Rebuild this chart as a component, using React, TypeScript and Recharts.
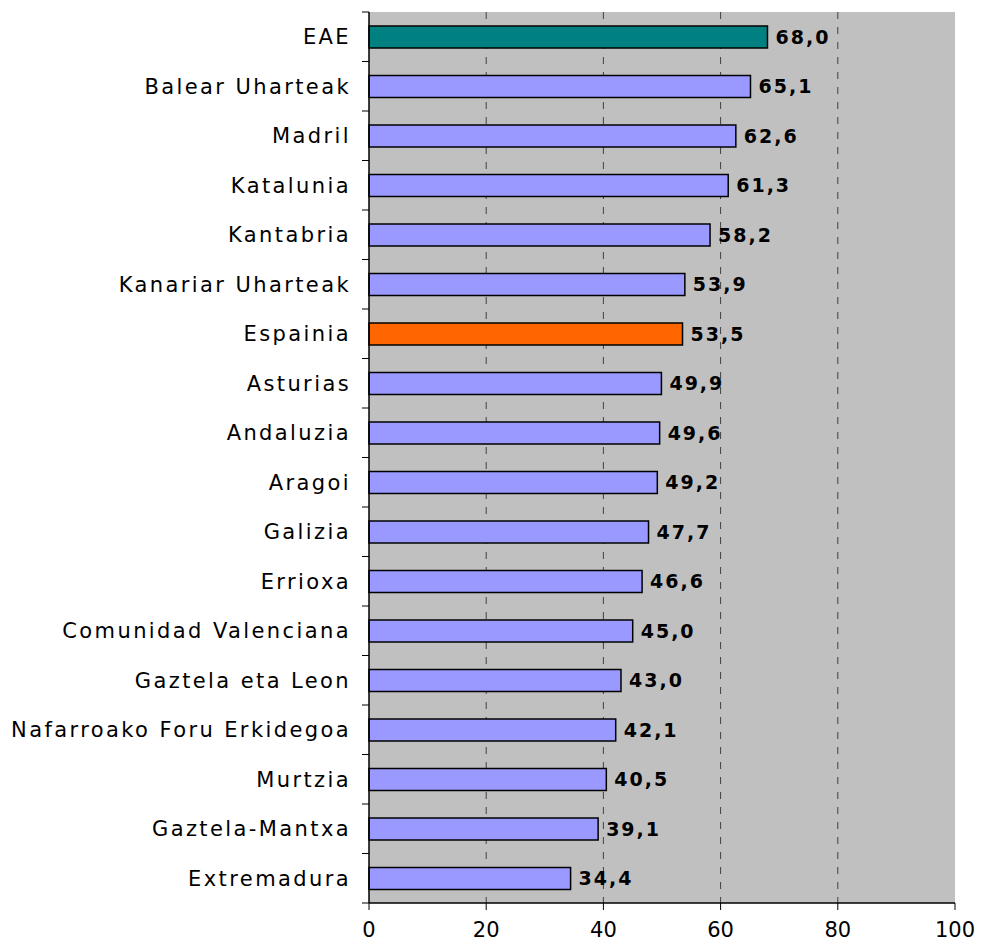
import React from "react";
import {
  BarChart,
  Bar,
  XAxis,
  YAxis,
  CartesianGrid,
  Cell,
  LabelList,
} from "recharts";

const regions = [
  "EAE",
  "Balear Uharteak",
  "Madril",
  "Katalunia",
  "Kantabria",
  "Kanariar Uharteak",
  "Espainia",
  "Asturias",
  "Andaluzia",
  "Aragoi",
  "Galizia",
  "Errioxa",
  "Comunidad Valenciana",
  "Gaztela eta Leon",
  "Nafarroako Foru Erkidegoa",
  "Murtzia",
  "Gaztela-Mantxa",
  "Extremadura",
];

const values = [
  68.0, 65.1, 62.6, 61.3, 58.2, 53.9, 53.5, 49.9, 49.6, 49.2, 47.7, 46.6, 45.0,
  43.0, 42.1, 40.5, 39.1, 34.4,
];

const xTicks = [0, 20, 40, 60, 80, 100];
const gridValues = [20, 40, 60, 80];

const data = regions.map((name, i) => ({ name, value: values[i] }));

const W = 978;
const H = 936;
const M_TOP = 4;
const X_AXIS_H = 41;
const Y_AXIS_W = 361;
const BAND = (H - M_TOP - X_AXIS_H) / regions.length;

const FONT = "'DejaVu Sans', Verdana, sans-serif";

const colorFor = (name: string) =>
  name === "EAE" ? "#008080" : name === "Espainia" ? "#FF6600" : "#9999FF";

const CatTick = (props: any) => {
  const { y, payload, index } = props;
  const axisX = Y_AXIS_W;
  const isLast = index === regions.length - 1;
  return (
    <g>
      <line
        x1={axisX - 7}
        x2={axisX}
        y1={y - BAND / 2}
        y2={y - BAND / 2}
        stroke="#000"
        strokeWidth={1}
      />
      {isLast && (
        <line
          x1={axisX - 7}
          x2={axisX}
          y1={y + BAND / 2}
          y2={y + BAND / 2}
          stroke="#000"
          strokeWidth={1}
        />
      )}
      <text
        x={axisX - 18}
        y={y}
        dy="0.36em"
        textAnchor="end"
        fill="#000"
        fontSize={21}
        fontFamily={FONT}
        style={{ letterSpacing: "2.4px" }}
      >
        {payload.value}
      </text>
    </g>
  );
};

const fmt = (v: any) => Number(v).toFixed(1).replace(".", ",");

const gridGen = ({ offset }: any) =>
  gridValues.map((v) => offset.left + (offset.width * v) / 100);

export default function App() {
  return (
    <BarChart
      width={W}
      height={H}
      data={data}
      layout="vertical"
      margin={{ top: M_TOP, right: 31, left: 0, bottom: 0 }}
      barCategoryGap="28%"
    >
      <CartesianGrid
        horizontal={false}
        fill="#C0C0C0"
        fillOpacity={1}
        stroke="#404040"
        strokeDasharray="7 8"
        verticalCoordinatesGenerator={gridGen}
        xAxisId="bottom"
        yAxisId="cat"
      />
      <XAxis
        xAxisId="bottom"
        type="number"
        domain={[0, 100]}
        ticks={xTicks}
        interval={0}
        height={X_AXIS_H}
        axisLine={{ stroke: "#000", strokeWidth: 1.5 }}
        tickLine={{ stroke: "#000" }}
        tickSize={7}
        tickMargin={12}
        tick={{ fill: "#000", fontSize: 21, fontFamily: FONT }}
      />
      <XAxis
        xAxisId="top"
        orientation="top"
        type="number"
        domain={[0, 100]}
        height={0}
        tick={false}
        tickLine={false}
        axisLine={{ stroke: "#808080", strokeWidth: 2 }}
      />
      <YAxis
        yAxisId="cat"
        type="category"
        dataKey="name"
        width={Y_AXIS_W}
        interval={0}
        axisLine={{ stroke: "#000", strokeWidth: 1.5 }}
        tickLine={false}
        tick={<CatTick />}
      />
      <YAxis
        yAxisId="right"
        orientation="right"
        type="category"
        dataKey="name"
        width={0}
        tick={false}
        tickLine={false}
        axisLine={{ stroke: "#808080", strokeWidth: 2 }}
      />
      <Bar
        dataKey="value"
        xAxisId="bottom"
        yAxisId="cat"
        stroke="#000"
        strokeWidth={1.5}
        barSize={22}
        isAnimationActive={false}
      >
        {data.map((d) => (
          <Cell key={d.name} fill={colorFor(d.name)} />
        ))}
        <LabelList
          dataKey="value"
          position="right"
          offset={8}
          formatter={fmt}
          fill="#000"
          fontSize={19}
          fontWeight="bold"
          fontFamily={FONT}
          style={{ letterSpacing: "2px" }}
        />
      </Bar>
    </BarChart>
  );
}
